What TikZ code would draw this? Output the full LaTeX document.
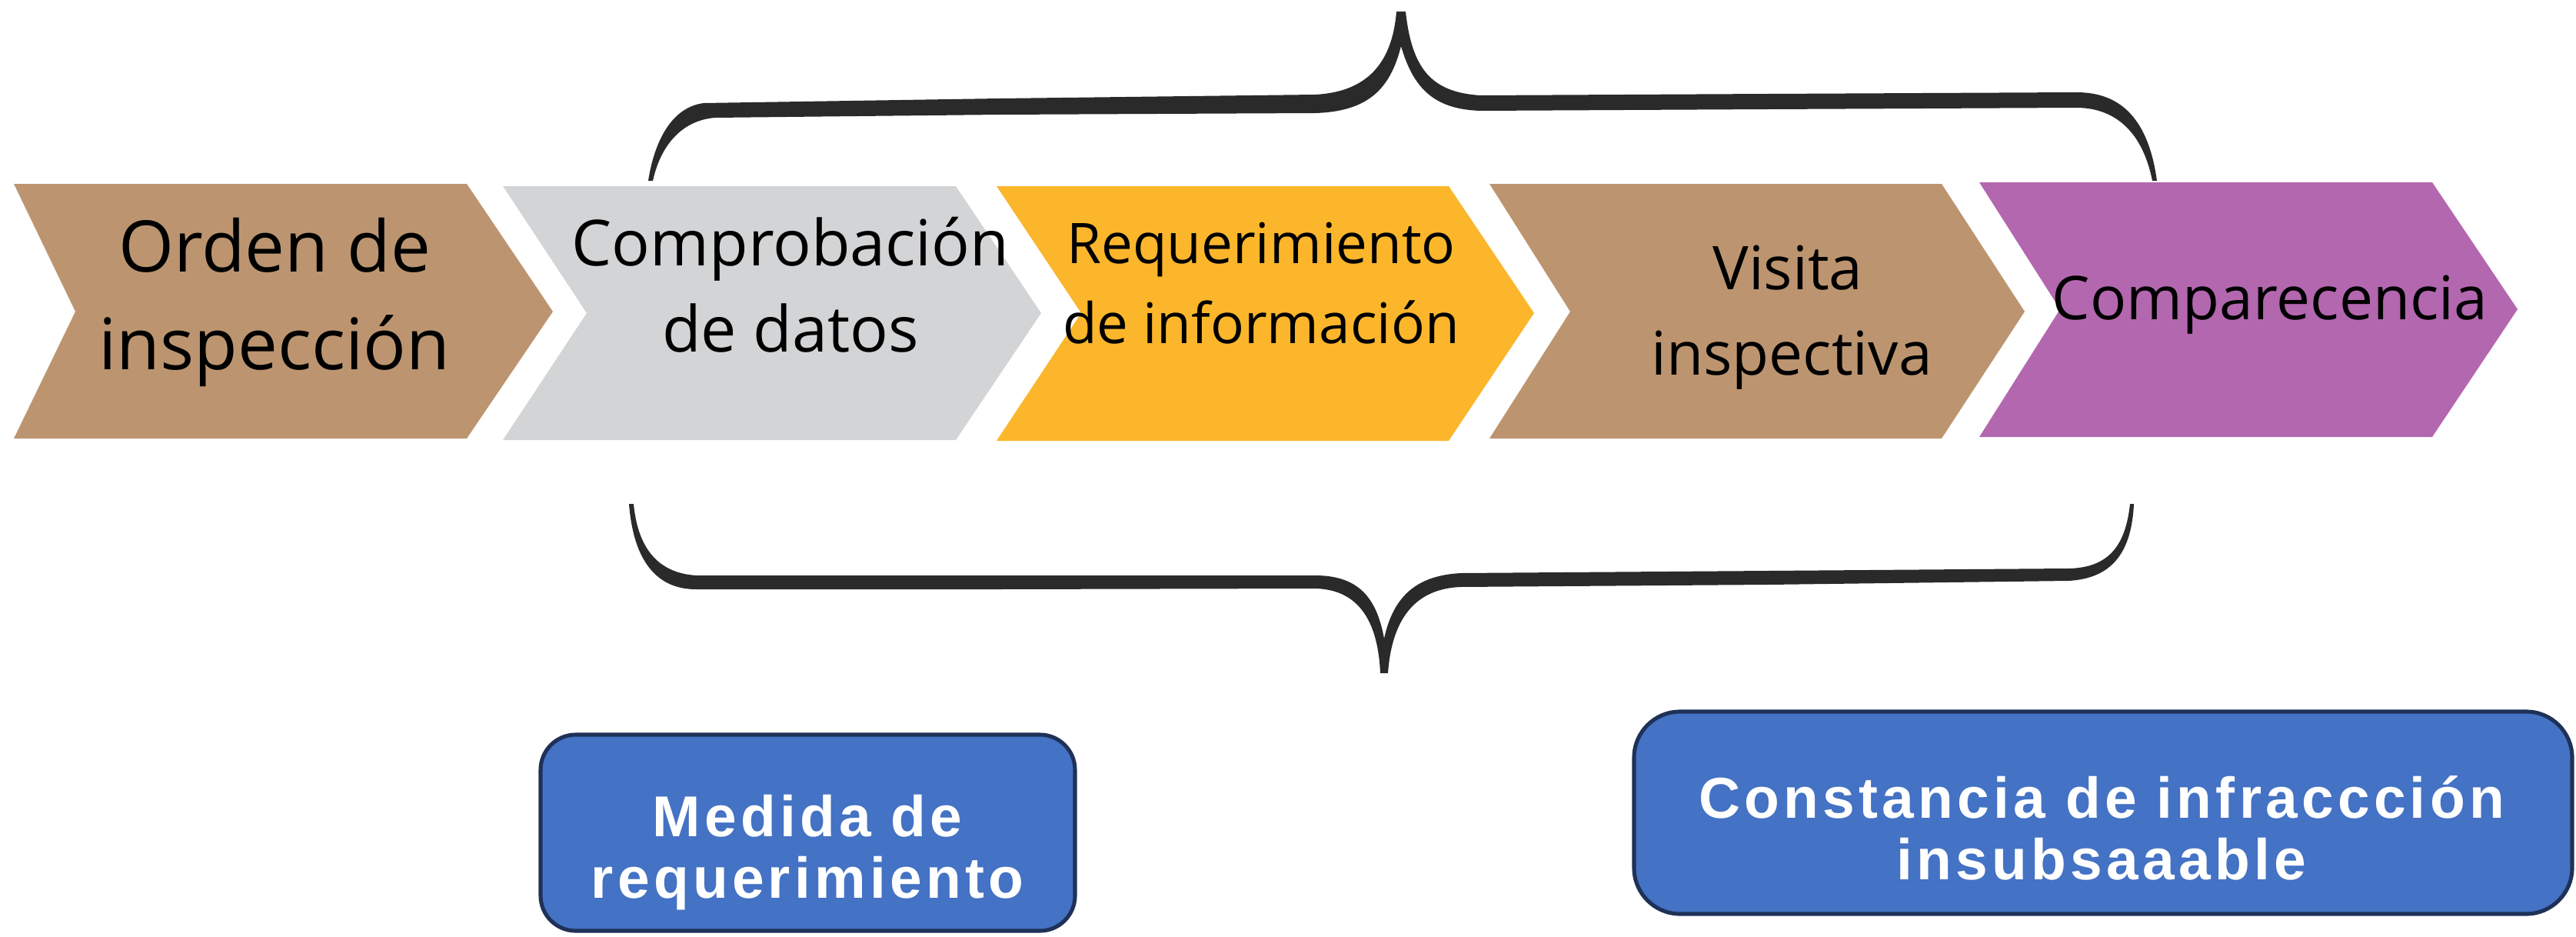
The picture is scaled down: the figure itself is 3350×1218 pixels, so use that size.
\documentclass[tikz,border=0pt]{standalone}
\usepackage{fontspec}
\setmainfont{Open Sans}
\newfontfamily\boxfont[LetterSpace=7]{Liberation Sans}
\definecolor{tan}{HTML}{BC9570}
\definecolor{lgray}{HTML}{D3D4D6}
\definecolor{amber}{HTML}{FBB62B}
\definecolor{orchid}{HTML}{B367AF}
\definecolor{bluebox}{HTML}{4472C4}
\definecolor{navy}{HTML}{1F3157}
\definecolor{ink}{HTML}{2A2A2A}
\tikzset{
  lbl/.style={anchor=base, inner sep=0pt, text=black},
  boxlbl/.style={anchor=base, inner sep=0pt, text=white, font=\boxfont\bfseries\fontsize{21.3pt}{23pt}\selectfont},
  bluebox/.style={draw=navy, fill=bluebox, line width=1.45pt, rounded corners=13pt},
}
\begin{document}
\begin{tikzpicture}[x=0.01cm, y=-0.01cm]
\useasboundingbox (0,0) rectangle (3350,1218);
% chevrons
\fill[tan]    (18,239) -- (607,239) -- (719,405) -- (607,570) -- (18,570) -- (98,405) -- cycle;
\fill[lgray]  (654,242) -- (1243,242) -- (1354,407) -- (1243,572) -- (654,572) -- (763,407) -- cycle;
\fill[amber]  (1296,242) -- (1884,242) -- (1995,407) -- (1884,573) -- (1296,573) -- (1406,407) -- cycle;
\fill[tan]    (1937,239) -- (2525,239) -- (2633,405) -- (2525,570) -- (1937,570) -- (2042,405) -- cycle;
\fill[orchid] (2574,237) -- (3163,237) -- (3274,402) -- (3163,568) -- (2574,568) -- (2679,402) -- cycle;
% chevron texts
\node[lbl, font=\fontsize{26.3pt}{36pt}\selectfont] (c1a) at (357,353) {Orden de};
\node[lbl, font=\fontsize{26.3pt}{36pt}\selectfont] (c1b) at (357,480) {inspección};
\node[lbl, font=\fontsize{23.5pt}{32pt}\selectfont] (c2a) at (1028,345) {Comprobación};
\node[lbl, font=\fontsize{23.5pt}{32pt}\selectfont] (c2b) at (1028,457) {de datos};
\node[lbl, font=\fontsize{20.7pt}{29pt}\selectfont] (c3a) at (1640,342) {Requerimiento};
\node[lbl, font=\fontsize{20.7pt}{29pt}\selectfont] (c3b) at (1640,446) {de información};
\node[lbl, font=\fontsize{22.3pt}{31pt}\selectfont] (c4a) at (2325,376) {Visita};
\node[lbl, font=\fontsize{22.3pt}{31pt}\selectfont] (c4b) at (2330,487) {inspectiva};
\node[lbl, font=\fontsize{22.3pt}{31pt}\selectfont] (c5a) at (2952,415) {Comparecencia};
% top brace
\fill[ink] (843,235) .. controls (850,190) and (870,140) .. (915,134)
  -- (1300,128) -- (1710,123)
  .. controls (1770,120) and (1810,90) .. (1816,15) -- (1828,15)
  .. controls (1836,90) and (1862,120) .. (1925,124)
  -- (2300,122) -- (2700,120)
  .. controls (2745,120) and (2792,140) .. (2805,235)
  -- (2799,235)
  .. controls (2785,165) and (2745,140) .. (2700,140)
  -- (2300,142) -- (1925,144)
  .. controls (1865,142) and (1838,115) .. (1822,60)
  .. controls (1808,115) and (1780,145) .. (1710,147)
  -- (1300,149) -- (930,153)
  .. controls (890,156) and (860,185) .. (849,235) -- cycle;
% bottom brace
\fill[ink] (818,655) .. controls (823,720) and (848,766) .. (905,766)
  -- (1300,766) -- (1710,765)
  .. controls (1765,766) and (1792,805) .. (1795,875) -- (1805,875)
  .. controls (1810,805) and (1840,765) .. (1900,763)
  -- (2300,760) -- (2690,755)
  .. controls (2745,752) and (2772,720) .. (2775,655)
  -- (2770,655)
  .. controls (2764,712) and (2740,738) .. (2690,739)
  -- (2300,742) -- (1900,745)
  .. controls (1842,748) and (1812,775) .. (1800,830)
  .. controls (1790,775) and (1765,748) .. (1710,748)
  -- (1300,748) -- (905,748)
  .. controls (860,745) and (830,718) .. (824,655) -- cycle;
% boxes
\draw[bluebox] (703,955) rectangle (1398,1210);
\coordinate (b1) at (1050,1082);
\draw[bluebox, rounded corners=17pt] (2125,925) rectangle (3345,1188);
\coordinate (b2) at (2735,1056);
\node[boxlbl] (b1a) at (1050,1087) {Medida de};
\node[boxlbl] (b1b) at (1050,1167) {requerimiento};
\node[boxlbl] (b2a) at (2733,1063) {Constancia de infraccción};
\node[boxlbl] (b2b) at (2733,1143) {insubsaaable};
\end{tikzpicture}
\end{document}
